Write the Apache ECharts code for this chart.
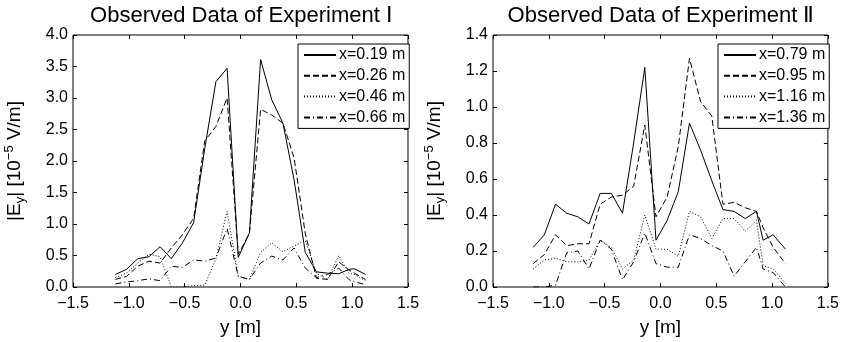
<!DOCTYPE html>
<html>
<head>
<meta charset="utf-8">
<script src="https://cdn.jsdelivr.net/npm/echarts@6/dist/echarts.min.js"></script>
<style>
  html, body { margin: 0; padding: 0; background: #fff; }
  #chart { width: 842px; height: 342px; }
</style>
</head>
<body>
<div id="chart"></div>
<script>
// measurement positions y [m]
var posI = [-1.12, -1.02, -0.92, -0.82, -0.72, -0.62, -0.52, -0.42, -0.32, -0.22, -0.12, -0.02,
  0.08, 0.18, 0.28, 0.38, 0.48, 0.58, 0.68, 0.78, 0.88, 0.97, 1.02, 1.12];
var posII = [-1.14, -1.04, -0.94, -0.84, -0.74, -0.64, -0.54, -0.44, -0.34, -0.24, -0.14, -0.04,
  0.06, 0.16, 0.26, 0.36, 0.46, 0.56, 0.66, 0.76, 0.86, 0.92, 1.01, 1.12];

// Experiment I  |Ey| [1e-5 V/m]
var x019 = [0.20, 0.28, 0.45, 0.48, 0.64, 0.45, 0.70, 1.02, 2.20, 3.26, 3.47, 0.47,
  0.86, 3.61, 2.97, 2.60, 1.70, 0.55, 0.24, 0.22, 0.21, 0.28, 0.29, 0.20];
var x026 = [0.12, 0.17, 0.33, 0.41, 0.38, 0.62, 0.83, 1.09, 2.32, 2.55, 3.00, 0.52,
  0.85, 2.82, 2.73, 2.60, 2.05, 0.85, 0.14, 0.12, 0.40, 0.27, 0.22, 0.12];
var x046 = [0.15, 0.22, 0.38, 0.52, 0.48, 0.00, 0.00, 0.02, 0.03, 0.45, 1.20, 0.17,
  0.12, 0.55, 0.70, 0.56, 0.65, 0.74, 0.22, 0.12, 0.50, 0.22, 0.20, 0.10];
var x066 = [0.05, 0.08, 0.10, 0.13, 0.10, 0.33, 0.31, 0.43, 0.41, 0.46, 0.93, 0.17,
  0.12, 0.38, 0.49, 0.43, 0.62, 0.30, 0.15, 0.20, 0.30, 0.12, 0.08, 0.04];

// Experiment II
var x079 = [0.22, 0.29, 0.46, 0.41, 0.39, 0.35, 0.52, 0.52, 0.41, 0.80, 1.22, 0.26,
  0.37, 0.53, 0.91, 0.76, 0.59, 0.43, 0.42, 0.38, 0.42, 0.26, 0.29, 0.21];
var x095 = [0.13, 0.18, 0.29, 0.23, 0.24, 0.24, 0.46, 0.50, 0.51, 0.56, 0.90, 0.39,
  0.50, 0.78, 1.27, 1.03, 0.95, 0.46, 0.47, 0.44, 0.42, 0.33, 0.22, 0.13];
var x116 = [0.10, 0.15, 0.16, 0.14, 0.14, 0.15, 0.26, 0.22, 0.10, 0.15, 0.40, 0.21,
  0.21, 0.17, 0.42, 0.39, 0.27, 0.38, 0.38, 0.31, 0.37, 0.12, 0.10, 0.02];
var x136 = [0.00, 0.00, 0.01, 0.19, 0.20, 0.10, 0.26, 0.21, 0.04, 0.14, 0.30, 0.13,
  0.11, 0.11, 0.29, 0.27, 0.23, 0.20, 0.06, 0.14, 0.22, 0.10, 0.08, 0.00];

var namesI = ['x=0.19 m', 'x=0.26 m', 'x=0.46 m', 'x=0.66 m'];
var namesII = ['x=0.79 m', 'x=0.95 m', 'x=1.16 m', 'x=1.36 m'];
var dashes = ['solid', [6, 3], [1, 2], [6, 3, 1, 3]];

var FONT = 'Liberation Sans';

function pairs(xs, ys) {
  return xs.map(function (x, i) { return [x, ys[i]]; });
}

function xAxes(gi) {
  var base = {
    type: 'value', gridIndex: gi, min: -1.5, max: 1.5, interval: 0.5,
    axisLine: { show: false, onZero: false },
    axisTick: { inside: true, length: 4, lineStyle: { color: '#000' } },
    splitLine: { show: false }
  };
  return [
    Object.assign({}, base, {
      position: 'bottom',
      name: 'y [m]', nameLocation: 'middle', nameGap: 31,
      nameTextStyle: { color: '#000', fontSize: 19, fontFamily: FONT },
      axisLabel: {
        color: '#000', fontSize: 16, fontFamily: FONT, margin: 9,
        formatter: function (v) { return v.toFixed(1).replace('-', '\u2212'); }
      }
    }),
    Object.assign({}, base, { position: 'top', axisLabel: { show: false } })
  ];
}

function yAxes(gi, max, step) {
  var base = {
    type: 'value', gridIndex: gi, min: 0, max: max, interval: step,
    axisLine: { show: false, onZero: false },
    axisTick: { inside: true, length: 4, lineStyle: { color: '#000' } },
    splitLine: { show: false }
  };
  return [
    Object.assign({}, base, {
      position: 'left',
      name: '|E{sub|y}| [10{sup|\u22125} V/m]', nameLocation: 'middle', nameGap: 46,
      nameTextStyle: {
        color: '#000', fontSize: 19, fontFamily: FONT, lineHeight: 24,
        rich: {
          sub: { fontSize: 13, fontFamily: FONT, color: '#000', verticalAlign: 'bottom', lineHeight: 24 },
          sup: { fontSize: 13, fontFamily: FONT, color: '#000', verticalAlign: 'top', lineHeight: 24 }
        }
      },
      axisLabel: {
        color: '#000', fontSize: 16, fontFamily: FONT, margin: 5,
        formatter: function (v) { return v.toFixed(1); }
      }
    }),
    Object.assign({}, base, { position: 'right', axisLabel: { show: false } })
  ];
}

function makeSeries(names, pos, arrays, gi) {
  return arrays.map(function (vals, i) {
    return {
      name: names[i], type: 'line', xAxisIndex: gi * 2, yAxisIndex: gi * 2,
      data: pairs(pos, vals), symbol: 'none', animation: false,
      lineStyle: { color: '#000', width: 1, type: dashes[i] },
      itemStyle: { color: '#000' }
    };
  });
}

function legendAt(left, names) {
  return {
    left: left, top: 44, orient: 'vertical',
    data: names,
    itemWidth: 32, itemHeight: 14, itemGap: 4.8,
    padding: [3, 4, 3, 5],
    borderColor: '#000', borderWidth: 1, borderRadius: 0,
    backgroundColor: '#fff',
    textStyle: { color: '#000', fontSize: 16, fontFamily: FONT, padding: [0, 0, 0, -2] },
    itemStyle: { opacity: 0 },
    selectedMode: false
  };
}

var chart = echarts.init(document.getElementById('chart'), null, { renderer: 'canvas' });
chart.setOption({
  backgroundColor: '#fff',
  animation: false,
  title: [
    { text: 'Observed Data of Experiment \u2160', left: 236, top: 0, textAlign: 'center',
      textStyle: { color: '#000', fontSize: 22, fontWeight: 'normal', fontFamily: FONT } },
    { text: 'Observed Data of Experiment \u2161', left: 656, top: 0, textAlign: 'center',
      textStyle: { color: '#000', fontSize: 22, fontWeight: 'normal', fontFamily: FONT } }
  ],
  grid: [
    { left: 73, width: 335, top: 35, height: 255, show: true, borderColor: '#000', borderWidth: 1, backgroundColor: 'transparent' },
    { left: 493, width: 335, top: 35, height: 255, show: true, borderColor: '#000', borderWidth: 1, backgroundColor: 'transparent' }
  ],
  legend: [legendAt(298, namesI), legendAt(718, namesII)],
  xAxis: xAxes(0).concat(xAxes(1)),
  yAxis: yAxes(0, 4.0, 0.5).concat(yAxes(1, 1.4, 0.2)),
  series: makeSeries(namesI, posI, [x019, x026, x046, x066], 0)
    .concat(makeSeries(namesII, posII, [x079, x095, x116, x136], 1))
});
</script>
</body>
</html>
